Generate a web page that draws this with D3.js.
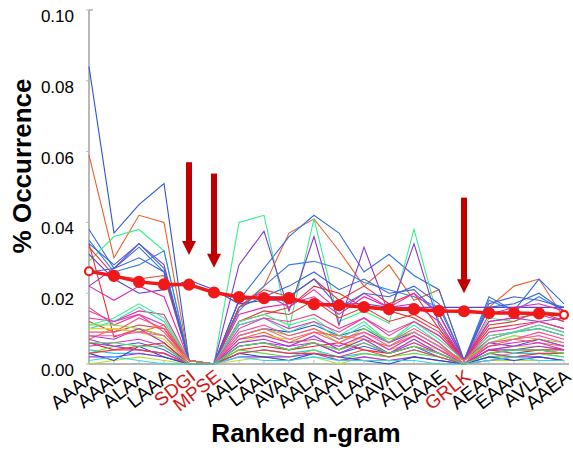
<!DOCTYPE html>
<html>
  <head>
    <meta charset="utf-8">
    <style>
    body {margin:0; background:white;}
    * { font-family: "Liberation Sans", Arial, sans-serif; }
    svg { background: white; }
    </style>
  </head>
  <body>
    <div id="chart"></div>
    <script src="https://d3js.org/d3.v7.min.js"></script>
<script>

  // categories (ranked n-grams) and which ones are marked in red
  var ngrams = ["AAAA","AAAL","ALAA","LAAA","SDGI","MPSE","AALL","LAAL","AVAA","AALA",
                "AAAV","LLAA","AAVA","ALLA","AAAE","GRLK","AEAA","EAAA","AVLA","AAEA"];
  var marked = ["SDGI","MPSE","GRLK"];

  var yTicks = [0, 0.02, 0.04, 0.06, 0.08, 0.10];

  // average occurrence (thick red line)
  var meanValues = [0.0262,0.0249,0.0232,0.0225,0.0224,0.0202,0.0189,0.0186,0.0186,0.0169,
                    0.0166,0.0161,0.0155,0.0155,0.0150,0.0149,0.0144,0.0144,0.0143,0.0139];

  // individual sequences (thin lines)
  var seriesColors = ["#2a55d8","#e8602c","#2f6fe0","#38ee8a","#8a33d6","#5a3fd8","#3a7ee8","#e83030",
                      "#e02aa8","#e23a3a","#3466dc","#f04488","#e03e3e","#e82ab0","#3d62d8",
                      "#40ee90","#30e0b0","#88e02a","#ee33bb","#ff4a8a","#ee7030","#d8d828","#9a38e0",
                      "#3a5ee0","#e82828","#28c8e8","#d830c8","#5ae040","#b8e028","#b030f0","#ff5aa0",
                      "#2a48d0","#c82ad8","#f03a50","#48e050","#30d8e8"];
  var seriesValues = [
    [0.084,0.037,0.045,0.051,0.001,0.000,0.008,0.010,0.009,0.011,0.008,0.010,0.006,0.009,0.005,0.001,0.006,0.005,0.007,0.005],
    [0.059,0.030,0.042,0.040,0.001,0.000,0.016,0.022,0.037,0.041,0.032,0.022,0.028,0.018,0.021,0.001,0.016,0.022,0.024,0.013],
    [0.038,0.027,0.033,0.026,0.001,0.000,0.018,0.027,0.036,0.042,0.037,0.026,0.031,0.025,0.021,0.001,0.019,0.015,0.024,0.017],
    [0.029,0.036,0.038,0.032,0.001,0.000,0.040,0.042,0.010,0.041,0.012,0.015,0.0115,0.038,0.012,0.001,0.013,0.012,0.015,0.014],
    [0.022,0.027,0.034,0.028,0.001,0.000,0.028,0.0375,0.015,0.036,0.011,0.033,0.014,0.034,0.011,0.001,0.012,0.013,0.012,0.013],
    [0.031,0.024,0.020,0.021,0.0237,0.021,0.017,0.018,0.018,0.017,0.017,0.017,0.016,0.016,0.016,0.016,0.016,0.016,0.016,0.016],
    [0.035,0.026,0.028,0.032,0.001,0.000,0.015,0.022,0.028,0.029,0.027,0.023,0.021,0.019,0.016,0.001,0.018,0.015,0.019,0.015],
    [0.034,0.0076,0.010,0.008,0.001,0.000,0.012,0.014,0.016,0.022,0.020,0.016,0.015,0.013,0.009,0.001,0.007,0.009,0.010,0.008],
    [0.022,0.018,0.022,0.019,0.001,0.000,0.014,0.016,0.017,0.019,0.014,0.019,0.016,0.017,0.012,0.001,0.012,0.013,0.014,0.012],
    [0.033,0.025,0.024,0.025,0.001,0.000,0.012,0.015,0.014,0.018,0.013,0.016,0.012,0.014,0.010,0.001,0.010,0.011,0.012,0.010],
    [0.034,0.028,0.034,0.027,0.001,0.000,0.016,0.019,0.022,0.026,0.021,0.024,0.020,0.021,0.014,0.001,0.016,0.017,0.020,0.015],
    [0.016,0.011,0.014,0.009,0.001,0.000,0.011,0.013,0.012,0.014,0.010,0.013,0.009,0.012,0.008,0.001,0.008,0.009,0.011,0.009],
    [0.012,0.009,0.011,0.010,0.001,0.000,0.016,0.021,0.019,0.024,0.018,0.022,0.017,0.020,0.010,0.001,0.011,0.012,0.015,0.012],
    [0.013,0.012,0.015,0.014,0.001,0.000,0.018,0.020,0.016,0.021,0.015,0.020,0.016,0.020,0.014,0.001,0.014,0.016,0.017,0.015],
    [0.026,0.027,0.030,0.026,0.001,0.000,0.018,0.019,0.019,0.024,0.016,0.020,0.019,0.022,0.017,0.001,0.017,0.019,0.018,0.016],
    [0.011,0.013,0.017,0.013,0.001,0.000,0.012,0.014,0.011,0.013,0.008,0.012,0.006,0.012,0.007,0.001,0.008,0.009,0.011,0.009],
    [0.010,0.012,0.016,0.012,0.001,0.000,0.011,0.013,0.009,0.012,0.007,0.011,0.006,0.011,0.006,0.000,0.007,0.009,0.010,0.008],
    [0.011,0.011,0.010,0.008,0.001,0.000,0.008,0.010,0.008,0.010,0.006,0.010,0.007,0.009,0.005,0.001,0.006,0.008,0.007,0.006],
    [0.015,0.012,0.014,0.011,0.001,0.000,0.010,0.013,0.010,0.012,0.009,0.013,0.008,0.012,0.008,0.001,0.009,0.010,0.012,0.010],
    [0.009,0.009,0.013,0.010,0.000,0.000,0.009,0.011,0.008,0.010,0.007,0.009,0.006,0.010,0.006,0.000,0.006,0.007,0.009,0.007],
    [0.007,0.010,0.009,0.011,0.001,0.000,0.007,0.009,0.006,0.009,0.008,0.007,0.005,0.008,0.004,0.001,0.005,0.007,0.006,0.005],
    [0.010,0.010,0.009,0.007,0.000,0.000,0.006,0.008,0.007,0.006,0.004,0.008,0.004,0.006,0.004,0.000,0.004,0.005,0.005,0.004],
    [0.008,0.007,0.010,0.006,0.000,0.000,0.006,0.007,0.005,0.008,0.004,0.007,0.003,0.007,0.003,0.000,0.004,0.004,0.005,0.004],
    [0.006,0.005,0.006,0.004,0.000,0.000,0.005,0.006,0.004,0.006,0.003,0.005,0.003,0.005,0.002,0.000,0.003,0.004,0.004,0.003],
    [0.006,0.004,0.005,0.006,0.000,0.000,0.004,0.005,0.004,0.005,0.006,0.004,0.003,0.005,0.003,0.000,0.004,0.003,0.004,0.004],
    [0.004,0.003,0.003,0.002,0.000,0.000,0.003,0.004,0.003,0.004,0.002,0.003,0.002,0.004,0.002,0.000,0.002,0.003,0.003,0.002],
    [0.005,0.006,0.007,0.005,0.000,0.000,0.007,0.008,0.006,0.007,0.005,0.008,0.004,0.008,0.004,0.000,0.005,0.006,0.007,0.005],
    [0.003,0.005,0.004,0.003,0.000,0.000,0.004,0.003,0.002,0.004,0.001,0.003,0.002,0.003,0.002,0.000,0.002,0.002,0.003,0.002],
    [0.000,0.001,0.002,0.001,0.000,0.000,0.001,0.002,0.001,0.002,0.000,0.002,0.001,0.002,0.001,0.000,0.001,0.001,0.001,0.001],
    [0.002,0.002,0.003,0.002,0.000,0.000,0.002,0.002,0.002,0.003,0.001,0.002,0.001,0.002,0.001,0.000,0.001,0.002,0.002,0.001],
    [0.008,0.008,0.009,0.008,0.000,0.000,0.008,0.010,0.007,0.009,0.006,0.009,0.005,0.009,0.005,0.000,0.006,0.007,0.008,0.006],
    [0.003,0.001,0.005,0.002,0.000,0.000,0.003,0.002,0.001,0.003,0.002,0.001,0.000,0.002,0.001,0.000,0.002,0.001,0.002,0.001],
    [0.007,0.005,0.004,0.003,0.000,0.000,0.005,0.006,0.005,0.006,0.003,0.006,0.003,0.006,0.003,0.000,0.004,0.005,0.006,0.004],
    [0.003,0.004,0.004,0.003,0.000,0.000,0.003,0.004,0.003,0.003,0.002,0.004,0.002,0.004,0.002,0.000,0.003,0.002,0.003,0.003],
    [0.006,0.006,0.005,0.005,0.000,0.000,0.005,0.006,0.004,0.006,0.004,0.006,0.003,0.005,0.003,0.000,0.003,0.004,0.004,0.003],
    [0.001,0.002,0.001,0.000,0.000,0.000,0.002,0.001,0.001,0.002,0.001,0.001,0.001,0.001,0.000,0.000,0.001,0.002,0.001,0.001]
  ];

  // arrows above the marked n-grams: [top, tip] in data units
  var arrowCats = ["SDGI","MPSE","GRLK"];
  var arrowSpans = [[0.0570,0.0308],[0.0538,0.0272],[0.0470,0.0200]];

  // properties
  var width = 573, height = 450;
  var svg = d3.select("#chart")
    .append("svg")
    .attr("width", width)
    .attr("height", height);

  var xscale = d3.scalePoint().domain(ngrams).range([89, 564]);
  var yscale = d3.scaleLinear().domain([0, 0.10]).range([364, 10]);

  // axes (grey)
  var axisColor = "#a0a0a0";
  svg.append("line")
    .attr("x1", 89).attr("x2", 89)
    .attr("y1", yscale(0.10)).attr("y2", yscale(0))
    .attr("stroke", axisColor).attr("stroke-width", 1.5);
  svg.append("line")
    .attr("x1", 89).attr("x2", 569)
    .attr("y1", yscale(0)).attr("y2", yscale(0))
    .attr("stroke", axisColor).attr("stroke-width", 1.5);
  svg.append("line")
    .attr("x1", 89).attr("x2", 93)
    .attr("y1", yscale(0.10)).attr("y2", yscale(0.10))
    .attr("stroke", axisColor).attr("stroke-width", 1.2);

  svg.append("g")
    .selectAll("line")
    .data(yTicks)
    .enter().append("line")
    .attr("x1", 86).attr("x2", 89)
    .attr("y1", function(d) { return yscale(d); })
    .attr("y2", function(d) { return yscale(d); })
    .attr("stroke", "#bbb");

  svg.append("g")
    .selectAll("text")
    .data(yTicks)
    .enter().append("text")
    .attr("x", 74)
    .attr("y", function(d) { return yscale(d) + 6; })
    .attr("dy", "0.35em")
    .attr("text-anchor", "end")
    .style("font-size", "17px")
    .text(function(d) { return d3.format(".2f")(d); });

  svg.append("g")
    .selectAll("line")
    .data(ngrams)
    .enter().append("line")
    .attr("x1", function(d) { return xscale(d); })
    .attr("x2", function(d) { return xscale(d); })
    .attr("y1", yscale(0) - 4).attr("y2", yscale(0))
    .attr("stroke", "#bbb");

  svg.append("g")
    .selectAll("text")
    .data(ngrams)
    .enter().append("text")
    .attr("transform", function(d) {
      return "translate(" + (xscale(d) + 8) + "," + 379 + ") rotate(-38)";
    })
    .attr("text-anchor", "end")
    .style("font-size", "19px")
    .style("fill", function(d) { return marked.indexOf(d) >= 0 ? "#d01818" : "black"; })
    .text(function(d) { return d; });

  // thin lines
  var line = d3.line()
    .x(function(d, i) { return xscale(ngrams[i]); })
    .y(function(d) { return yscale(d); });

  svg.append("g")
    .selectAll("path")
    .data(seriesValues)
    .enter().append("path")
    .attr("d", line)
    .attr("fill", "none")
    .attr("stroke", function(d, i) { return seriesColors[i % seriesColors.length]; })
    .attr("stroke-width", 1.1);

  // mean line
  svg.append("path")
    .datum(meanValues)
    .attr("d", line)
    .attr("fill", "none")
    .attr("stroke", "#f01818")
    .attr("stroke-width", 3.5);

  svg.append("g")
    .selectAll("circle")
    .data(meanValues)
    .enter().append("circle")
    .attr("cx", function(d, i) { return xscale(ngrams[i]); })
    .attr("cy", function(d) { return yscale(d); })
    .attr("r", function(d, i) { return (i == 0 || i == meanValues.length - 1) ? 4 : 5; })
    .attr("fill", function(d, i) { return (i == 0 || i == meanValues.length - 1) ? "white" : "#f01818"; })
    .attr("stroke", "#f01818")
    .attr("stroke-width", 2.2);

  // arrows
  var arrowColor = "#c00000";
  arrowCats.forEach(function(c, i) {
    var x = xscale(c), top = yscale(arrowSpans[i][0]), tip = yscale(arrowSpans[i][1]);
    svg.append("rect")
      .attr("x", x - 3).attr("y", top)
      .attr("width", 6).attr("height", tip - top - 12)
      .attr("fill", arrowColor);
    svg.append("path")
      .attr("d", "M" + (x - 7) + "," + (tip - 14) + "L" + (x + 7) + "," + (tip - 14) + "L" + x + "," + tip + "Z")
      .attr("fill", arrowColor);
  });

  // axis titles
  svg.append("text")
    .attr("x", 306)
    .attr("y", 442)
    .attr("text-anchor", "middle")
    .style("font-size", "26px")
    .style("font-weight", "bold")
    .text("Ranked n-gram");

  svg.append("text")
    .attr("transform", "translate(31,166) rotate(-90)")
    .attr("text-anchor", "middle")
    .style("font-size", "26px")
    .style("font-weight", "bold")
    .text("% Occurrence");

</script>
  </body>
</html>
